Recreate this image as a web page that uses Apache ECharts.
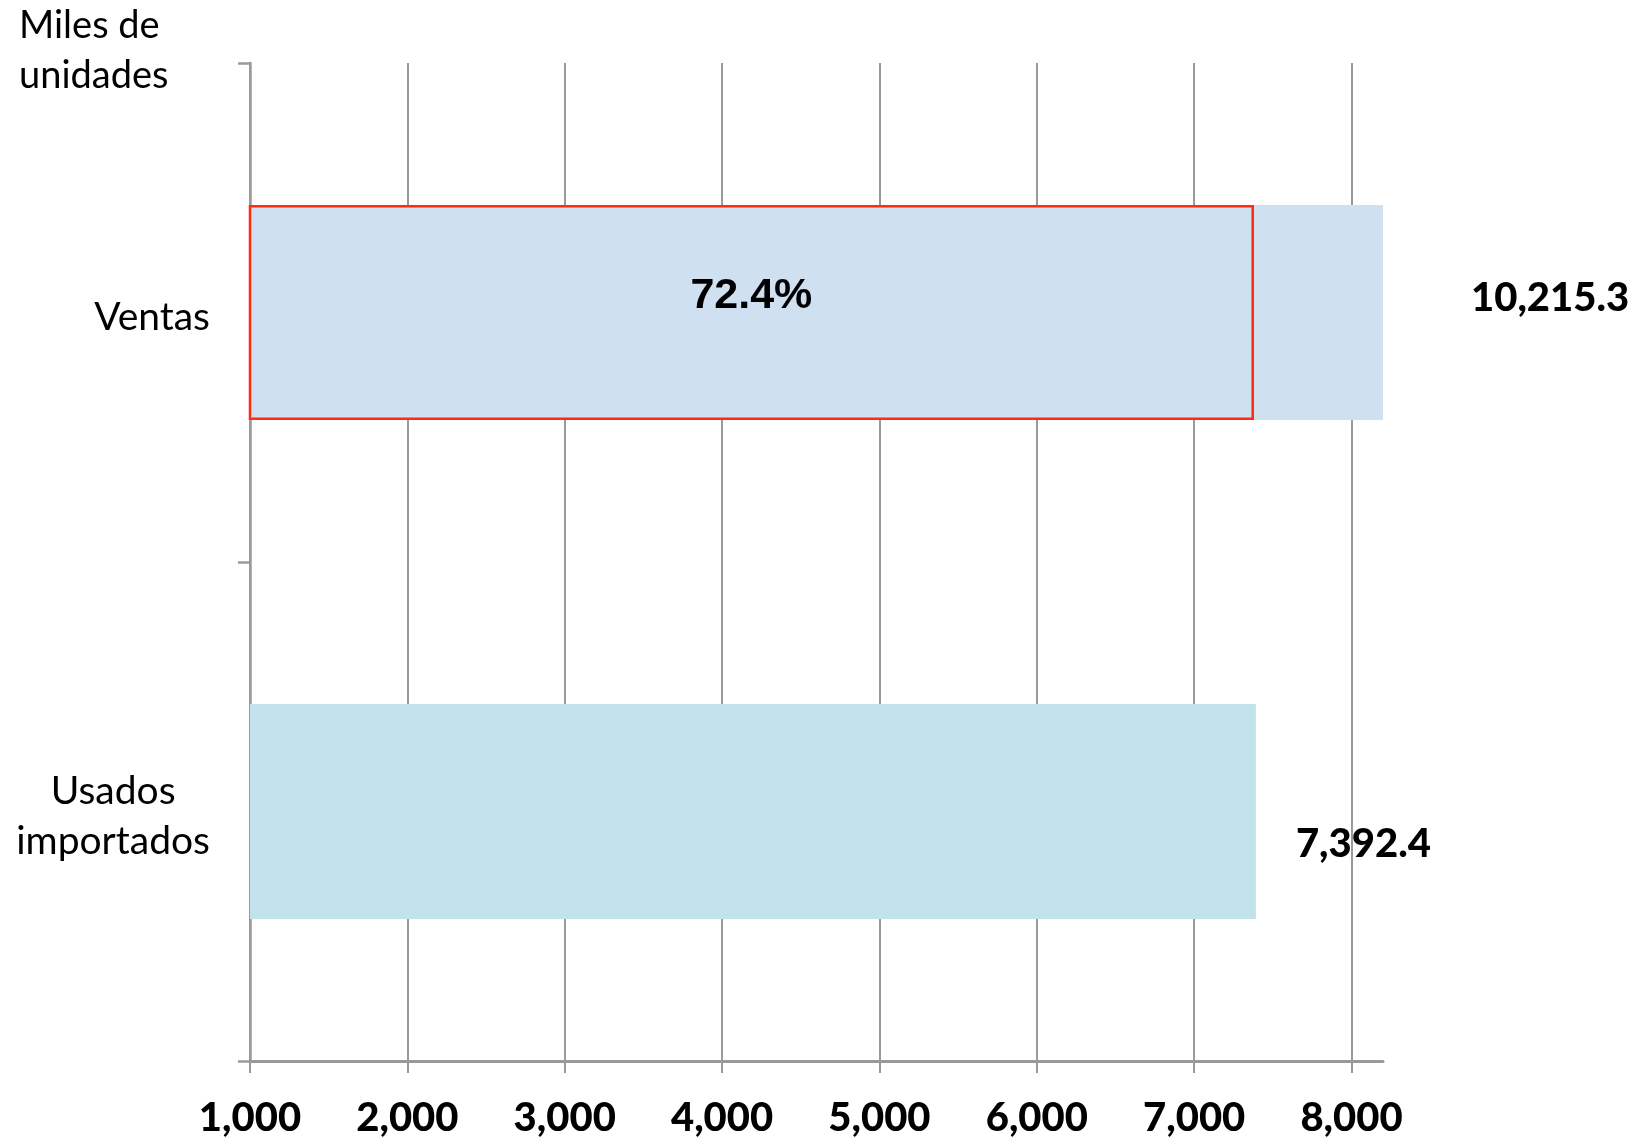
<!DOCTYPE html>
<html><head><meta charset="utf-8">
<script src="https://cdn.jsdelivr.net/npm/echarts@6/dist/echarts.min.js"></script>
<style>html,body{margin:0;padding:0;background:#fff}#chart{width:1637px;height:1139px}</style>
</head><body><div id="chart"></div>
<script>
// ---- data ----
const categories = ['Usados importados', 'Ventas'];
const totals = [7392.4, 10215.3];
const highlightCategory = 'Ventas';
const highlightValue = 7380;      // red outlined part of Ventas (72.4%)
const highlightLabel = '72.4%';
const xTicks = [1000, 2000, 3000, 4000, 5000, 6000, 7000, 8000];
const xMin = 1000;
const xMax = 8200;
const yAxisTitle = 'Miles de\nunidades';

// ---- styles ----
const barColors = ['#c3e3ec', '#cfe0f1'];
const valueLabelPlacement = [
  { distance: 40, offset: [0, 33] },
  { distance: 88, offset: [0, -14] }
];
const gray = '#9a9a9a';
const fmt1 = v => v.toLocaleString('en-US', { minimumFractionDigits: 1, maximumFractionDigits: 1 });

const chart = echarts.init(document.getElementById('chart'), null, { renderer: 'canvas' });
chart.setOption({
  animation: false,
  backgroundColor: '#fff',
  title: {
    text: yAxisTitle, left: 19, top: 1, padding: 0,
    textStyle: { fontFamily: 'Lato', fontSize: 38, fontWeight: 'normal', lineHeight: 50, color: '#000' }
  },
  grid: { left: 250, right: 254, top: 63, bottom: 78, containLabel: false },
  xAxis: {
    type: 'value', min: xMin, max: xMax,
    axisLine: { show: true, lineStyle: { color: gray, width: 3 } },
    axisTick: { show: true, length: 12, customValues: xTicks, lineStyle: { color: gray, width: 2 } },
    splitLine: { show: true, lineStyle: { color: gray, width: 2 } },
    axisLabel: {
      customValues: xTicks, margin: 37,
      formatter: v => Number(v).toLocaleString('en-US'),
      fontFamily: 'Lato', fontWeight: 900, fontSize: 40, color: '#000'
    }
  },
  yAxis: {
    type: 'category', data: categories,
    axisLine: { show: true, lineStyle: { color: gray, width: 2.5 } },
    axisTick: { show: true, length: 12, lineStyle: { color: gray, width: 2.5 } },
    splitLine: { show: false },
    axisLabel: {
      margin: 40, align: 'right', padding: [10, 0, 0, 0],
      formatter: v => v.split(' ').map(w => '{c|' + w + '}').join('\n'),
      rich: { c: { align: 'center', fontFamily: 'Lato', fontSize: 39, lineHeight: 50, color: '#000' } }
    }
  },
  series: [
    {
      type: 'bar', barWidth: 215, barGap: '-100%', z: 2,
      data: totals.map((v, i) => ({ value: v, itemStyle: { color: barColors[i] }, label: valueLabelPlacement[i] })),
      label: {
        show: true, position: 'right',
        formatter: p => fmt1(p.value),
        fontFamily: 'Lato', fontWeight: 900, fontSize: 40, color: '#000'
      }
    },
    {
      type: 'bar', barWidth: 215, barGap: '-100%', z: 3, silent: true,
      data: categories.map(c => c === highlightCategory ? highlightValue : '-'),
      itemStyle: { color: 'rgba(0,0,0,0)', borderColor: '#ff2a12', borderWidth: 2.5 },
      label: {
        show: true, position: 'inside', formatter: highlightLabel, offset: [0, -16],
        fontFamily: 'Liberation Sans', fontWeight: 'bold', fontSize: 43, color: '#000'
      }
    }
  ]
});
</script>
</body></html>
